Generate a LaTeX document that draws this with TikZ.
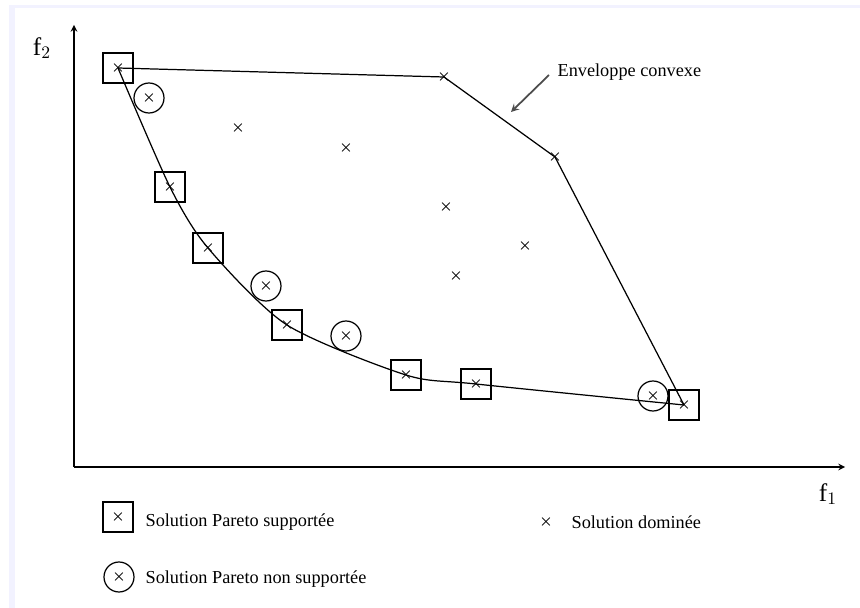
\documentclass[tikz,border=0pt]{standalone}
\usepackage{fontspec}
\setmainfont{Liberation Serif}
\tikzset{
  crx/.style={inner sep=0pt, font=\footnotesize\boldmath},
  supp/.style={crx, draw, minimum size=0.6cm},
  nsupp/.style={crx, draw, circle, minimum size=0.6cm},
  lbl/.style={anchor=west, inner sep=0pt, font=\fontsize{10.4}{12}\selectfont},
}
\begin{document}
\begin{tikzpicture}[x=0.02cm, y=-0.02cm, line width=0.7pt]
    \useasboundingbox (0,0) rectangle (860,608);
    % cadre
    \fill[blue!5] (9,5) rectangle (15,608);
    \fill[blue!5] (9,5) rectangle (860,8);
    % axes
    \coordinate (o) at (74,467);
    \coordinate (ytop) at (74,25);
    \coordinate (xend) at (845,467);
    \draw[-stealth] (o) -- (ytop);
    \draw[-stealth] (o) -- (xend);
    \node[font=\Large] (f2) at (42,48) {f$_2$};
    \node[font=\Large] (f1) at (828,494) {f$_1$};
    % solutions supportees
    \node[supp] (s1) at (118,68) {$\times$};
    \node[supp] (s2) at (170,187) {$\times$};
    \node[supp] (s3) at (208,248) {$\times$};
    \node[supp] (s4) at (287,325) {$\times$};
    \node[supp] (s5) at (406,375) {$\times$};
    \node[supp] (s6) at (476,384) {$\times$};
    \node[supp] (s7) at (684,405) {$\times$};
    % solutions non supportees
    \node[nsupp] (n1) at (149,98) {$\times$};
    \node[nsupp] (n2) at (266,286) {$\times$};
    \node[nsupp] (n3) at (346,336) {$\times$};
    \node[nsupp] (n4) at (653,396) {$\times$};
    % solutions dominees
    \node[crx] (d1) at (238,128) {$\times$};
    \node[crx] (d2) at (346,148) {$\times$};
    \node[crx] (d3) at (446,207) {$\times$};
    \node[crx] (d4) at (456,276) {$\times$};
    \node[crx] (d5) at (525,246) {$\times$};
    \node[crx] (h1) at (444,77) {$\times$};
    \node[crx] (h2) at (555,157) {$\times$};
    % enveloppe convexe
    \draw (s1.center) -- (h1.center) -- (h2.center) -- (s7.center);
    \draw plot[smooth, tension=0.45] coordinates {(118,68) (170,187) (208,248) (287,325) (406,375) (476,384) (684,405)};
    \node[lbl] (env) at (557,72) {Enveloppe convexe};
    \coordinate (envtip) at (511,112);
    \draw[-stealth, gray!60!black, line width=1pt] (env.west) ++(-8,3) -- (envtip);
    % legende
    \node[supp] (ls) at (118,517) {$\times$};
    \node[lbl] (lst) at (145,522) {Solution Pareto supportée};
    \node[crx] (ld) at (546,522) {$\times$};
    \node[lbl] (ldt) at (571,522) {Solution dominée};
    \node[nsupp] (ln) at (119,577) {$\times$};
    \node[lbl] (lnt) at (145,579) {Solution Pareto non supportée};
\end{tikzpicture}
\end{document}
